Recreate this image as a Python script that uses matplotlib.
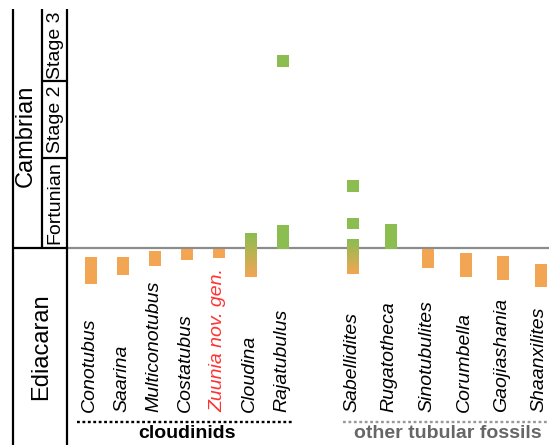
import numpy as np
import matplotlib
matplotlib.use('Agg')
import matplotlib.pyplot as plt
from matplotlib.colors import LinearSegmentedColormap

plt.rcParams['font.family'] = ['Liberation Sans', 'DejaVu Sans']

# taxa (two groups) and stratigraphic ranges in Ma (young, old)
cloudinids = ['Conotubus', 'Saarina', 'Multiconotubus', 'Costatubus',
              'Zuunia nov. gen.', 'Cloudina', 'Rajatubulus']
others = ['Sabellidites', 'Rugatotheca', 'Sinotubulites', 'Corumbella',
          'Gaojiashania', 'Shaanxilites']

range_top = [539.7, 539.7, 539.1, 538.9, 538.9, 537.3, 536.5,
             537.9, 536.4, 538.9, 539.3, 539.6, 540.4]
range_base = [542.4, 541.5, 540.6, 540.0, 539.8, 541.7, 538.9,
              541.4, 538.9, 540.8, 541.7, 542.0, 542.7]
# kind: 'e' Ediacaran only, 'c' Cambrian only, 'g' crosses the boundary
range_kind = ['e', 'e', 'e', 'e', 'e', 'g', 'c',
              'g', 'c', 'e', 'e', 'e', 'e']

# extra isolated Cambrian occurrences (taxon, young, old)
extra_taxon = ['Rajatubulus', 'Sabellidites', 'Sabellidites']
extra_top = [519.5, 532.0, 535.8]
extra_base = [520.7, 533.2, 536.9]

# time scale (Ma)
boundary = 538.8
fortunian_top = 529.8
stage2_top = 522.1
column_top = 514.9

green = '#8bbd51'
orange = '#f2a654'
grad = LinearSegmentedColormap.from_list('eg', [green, orange])

fig = plt.figure(figsize=(5.49, 4.45), dpi=100)
ax = fig.add_axes([0, 0, 1, 1])
ax.set_axis_off()

# x layout
x1 = 91 + 32.08 * np.arange(len(cloudinids))
x2 = 353 + 37.5 * np.arange(len(others))
xs = np.concatenate([x1, x2])
names = cloudinids + others
pos = dict(zip(names, xs))
w = 12

# boundary line
ax.plot([67, 549], [boundary, boundary], color='#8c8c8c', lw=1.6, zorder=1)

for x, t, b, k in zip(xs, range_top, range_base, range_kind):
    if k == 'g':
        img = np.linspace(0, 1, 50).reshape(-1, 1)
        ax.imshow(img, cmap=grad, extent=[x - w / 2, x + w / 2, b, t],
                  aspect='auto', origin='upper', zorder=2)
    else:
        ax.bar(x, b - t, bottom=t, width=w,
               color=green if k == 'c' else orange, zorder=2)

for n, t, b in zip(extra_taxon, extra_top, extra_base):
    ax.bar(pos[n], b - t, bottom=t, width=w, color=green, zorder=2)

# taxon labels
for n, x in zip(names, xs):
    ax.text(x - 1.5, 555.2, n, rotation=90, ha='center', va='bottom',
            fontsize=14, style='italic',
            color='#ff3333' if n.startswith('Zuunia') else 'black')

# group labels
ax.plot([x1[0] - 14, x1[-1] + 10.5], [556.2, 556.2], color='black', lw=1.7,
        linestyle=(0, (1.2, 1.1)))
ax.text(x1.mean(), 557.3, 'cloudinids', ha='center', va='center',
        fontsize=14, fontweight='bold')
ax.plot([x2[0] - 10.5, 549], [556.2, 556.2], color='#999999', lw=1.7,
        linestyle=(0, (1.2, 1.1)))
ax.text(x2.mean() + 1, 557.3, 'other tubular fossils', ha='center',
        va='center', fontsize=14, fontweight='bold', color='#666666')

# time scale column
k = dict(color='black', lw=1.6, solid_capstyle='butt')
ax.plot([13, 13], [column_top, 560], **k)
ax.plot([67, 67], [column_top, 560], **k)
ax.plot([42, 42], [column_top, boundary], **k)
ax.plot([13, 67], [boundary, boundary], **k)
ax.plot([42, 67], [fortunian_top, fortunian_top], **k)
ax.plot([42, 67], [stage2_top, stage2_top], **k)

ax.text(26, 527.6, 'Cambrian', rotation=90,
        ha='center', va='center', fontsize=17)
ax.text(41, 548.7, 'Ediacaran', rotation=90, ha='center', va='center',
        fontsize=17)
for lab, top, bot in [('Fortunian', fortunian_top, boundary),
                      ('Stage 2', stage2_top, fortunian_top),
                      ('Stage 3', column_top, stage2_top)]:
    ax.text(55, (top + bot) / 2, lab, rotation=90, ha='center',
            va='center', fontsize=14)

ax.set_xlim(0, 549)
ax.set_ylim(538.8 + 19.7, 538.8 - 24.8)

fig.savefig('out.png', dpi=100)
